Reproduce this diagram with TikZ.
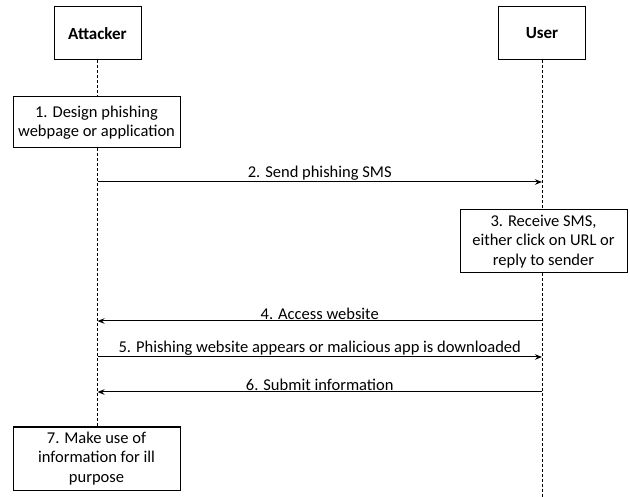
\documentclass[tikz,border=0pt]{standalone}
\usepackage{fontspec}
\setmainfont{Carlito}
\usetikzlibrary{arrows.meta}

\tikzset{
   actor/.style={draw, line width=1pt, minimum width=87pt, minimum height=53pt, font=\fontsize{17}{20}\selectfont\bfseries},
   stepbox/.style={draw, line width=1pt, align=center, inner sep=2pt, font=\fontsize{16.5}{19.5}\selectfont},
   lifeline/.style={line width=0.9pt, dash pattern=on 3pt off 2pt},
   msg/.style={line width=1pt, -{Stealth[length=7pt, width=5.5pt]}},
   msglabel/.style={above, inner sep=1pt, font=\fontsize{16.5}{19.5}\selectfont},
}

\begin{document}
\begin{tikzpicture}[x=1pt, y=-1pt]

   \useasboundingbox (0,0) rectangle (630,497);

   % 登場人物
   \node [actor] (attacker) at (97.5,33.5) {Attacker};
   \node [actor] (user) at (542,33.5) {User};

   % 各ステップ
   \node [stepbox, minimum width=167pt, minimum height=51pt] (design) at (96.5,122.5) {1. Design phishing\\webpage or application};
   \node [stepbox, minimum width=167pt, minimum height=63pt] (receive) at (543.5,241.5) {3. Receive SMS,\\either click on URL or\\reply to sender};
   \node [stepbox, minimum width=167pt, minimum height=63pt] (misuse) at (96.5,458.5) {7. Make use of\\information for ill\\purpose};

   % 生存線
   \coordinate (userend) at (542,497);
   \draw [lifeline] (attacker.south) -- (attacker.south |- design.north);
   \draw [lifeline] (attacker.south |- design.south) -- (attacker.south |- misuse.north);
   \draw [lifeline] (user.south) -- (user.south |- receive.north);
   \draw [lifeline] (user.south |- receive.south) -- (userend);

   % メッセージ
   \coordinate (att2) at (97.5,182);
   \coordinate (usr2) at (542,182);
   \coordinate (att4) at (97.5,321);
   \coordinate (usr4) at (542,321);
   \coordinate (att5) at (97.5,357);
   \coordinate (usr5) at (542,357);
   \coordinate (att6) at (97.5,392);
   \coordinate (usr6) at (542,392);

   \draw [msg] (att2) -- node [msglabel] (sms) {2. Send phishing SMS} (usr2);
   \draw [msg] (usr4) -- node [msglabel] (access) {4. Access website} (att4);
   \draw [msg] (att5) -- node [msglabel] (appear) {5. Phishing website appears or malicious app is downloaded} (usr5);
   \draw [msg] (usr6) -- node [msglabel] (submit) {6. Submit information} (att6);

\end{tikzpicture}
\end{document}
